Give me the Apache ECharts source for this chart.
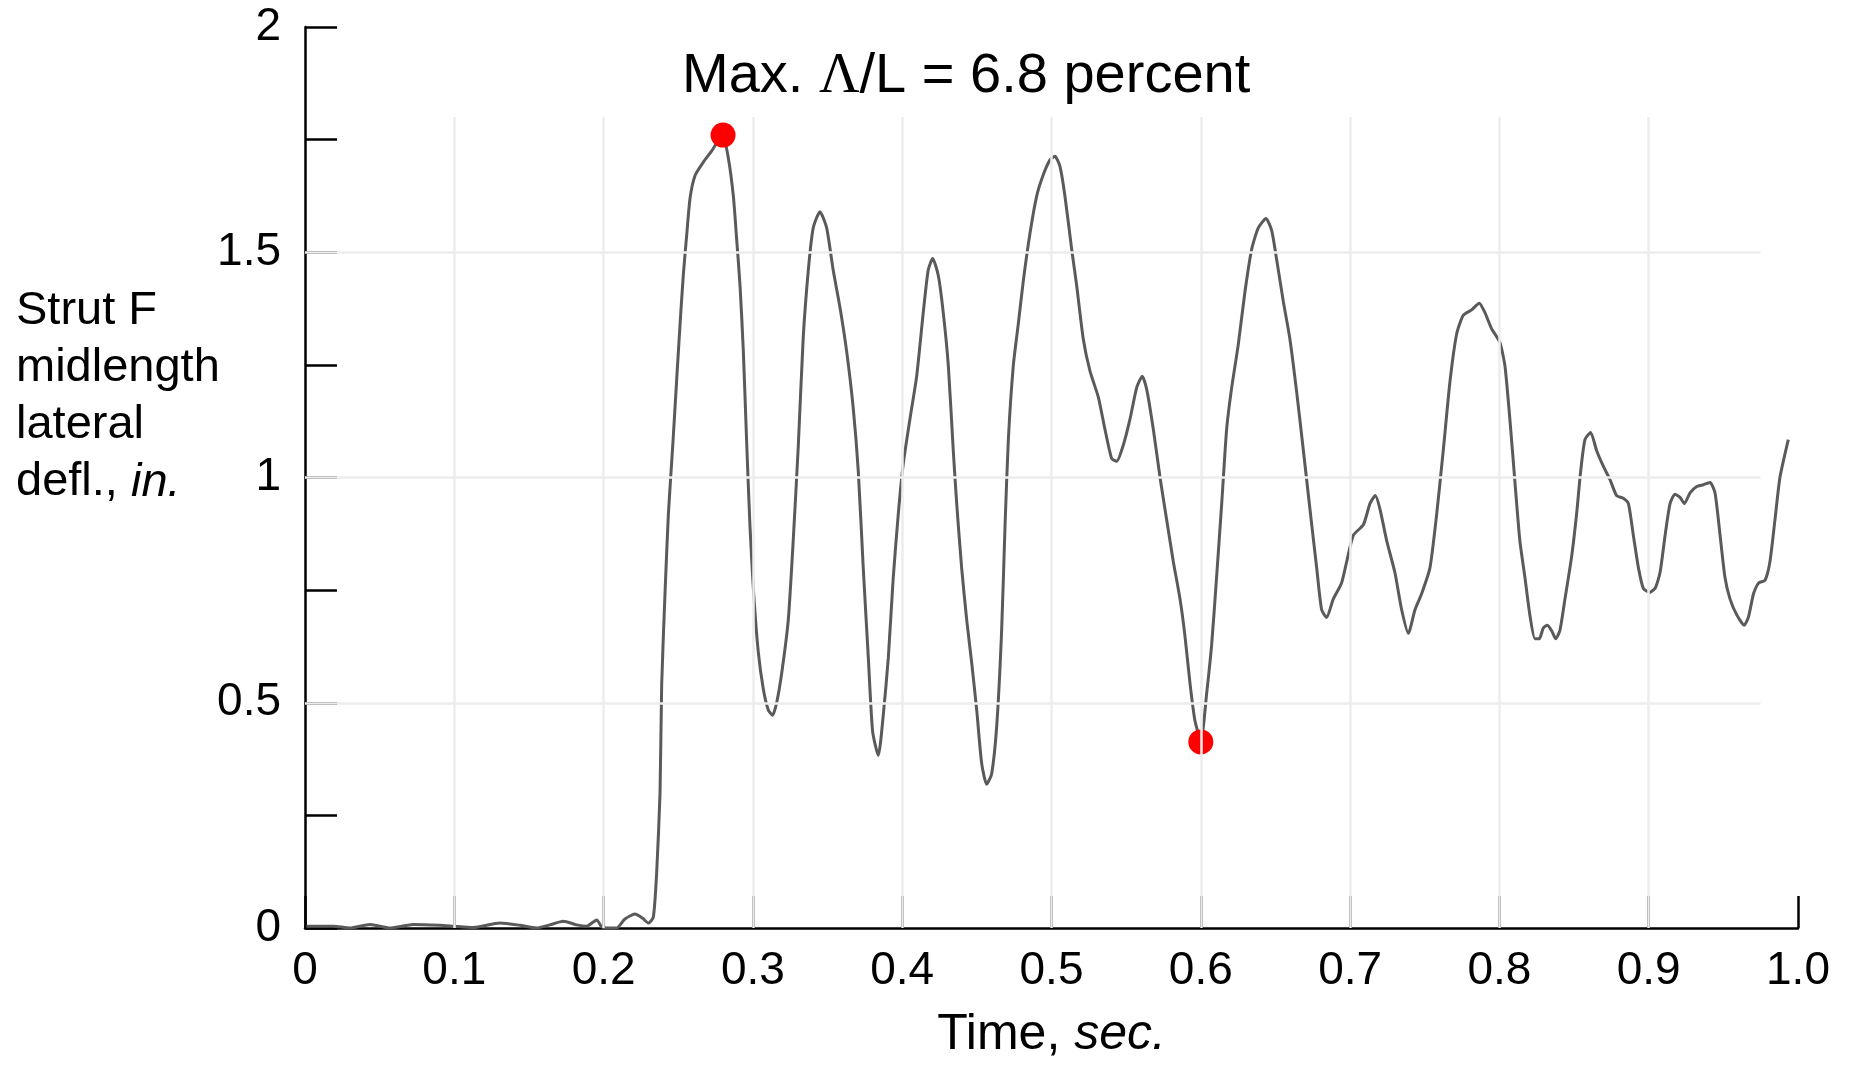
<!DOCTYPE html>
<html>
<head>
<meta charset="utf-8">
<script src="https://cdn.jsdelivr.net/npm/echarts@6/dist/echarts.min.js"></script>
<style>
  html, body { margin: 0; padding: 0; background: #ffffff; }
  #chart { width: 1854px; height: 1065px; }
</style>
</head>
<body>
<div id="chart"></div>
<script>
// ---- Data ----
var timeSec = [
  0.001, 0.019, 0.030, 0.0435, 0.057, 0.0726, 0.0904, 0.0993, 0.1127, 0.1306,
  0.144, 0.155, 0.164, 0.173, 0.182, 0.1887, 0.1954, 0.1987, 0.204, 0.2088,
  0.2143, 0.221, 0.226, 0.230, 0.2333, 0.2355, 0.2378, 0.2389, 0.2411, 0.2434,
  0.2463, 0.249, 0.2512, 0.2534, 0.2557, 0.2579, 0.2612, 0.2668, 0.2724, 0.2797,
  0.2835, 0.2869, 0.2891, 0.2914, 0.2936, 0.2958, 0.298, 0.3003, 0.3036, 0.307,
  0.3103, 0.3132, 0.3159, 0.3193, 0.3237, 0.327, 0.3304, 0.3337, 0.3371, 0.3404,
  0.3449, 0.3494, 0.3538, 0.3583, 0.3628, 0.3672, 0.3706, 0.3739, 0.3773, 0.3802,
  0.384, 0.3873, 0.3907, 0.394, 0.3974, 0.4007, 0.4052, 0.4097, 0.4141, 0.4174,
  0.4204, 0.4242, 0.4275, 0.4309, 0.4342, 0.4365, 0.4398, 0.4432, 0.4465, 0.4499,
  0.4532, 0.4566, 0.4599, 0.4633, 0.4666, 0.4689, 0.4711, 0.4744, 0.4778, 0.4811,
  0.4856, 0.4901, 0.4945, 0.499, 0.5023, 0.5057, 0.509, 0.5135, 0.5169, 0.5213,
  0.5258, 0.5314, 0.5358, 0.5403, 0.5437, 0.5481, 0.5526, 0.5571, 0.5608, 0.5638,
  0.5682, 0.5727, 0.5771, 0.5816, 0.5861, 0.5894, 0.5928, 0.5961, 0.6001, 0.6039,
  0.6073, 0.6106, 0.614, 0.6173, 0.6207, 0.6251, 0.6296, 0.6341, 0.6385, 0.6437,
  0.6475, 0.6508, 0.6553, 0.6597, 0.6642, 0.6687, 0.6731, 0.6776, 0.6809, 0.6843,
  0.6887, 0.6943, 0.6977, 0.7022, 0.7089, 0.7133, 0.7169, 0.72, 0.7245, 0.73,
  0.7345, 0.739, 0.7435, 0.7479, 0.7535, 0.758, 0.7624, 0.7669, 0.7714, 0.7758,
  0.7814, 0.7865, 0.7903, 0.7948, 0.8003, 0.8037, 0.807, 0.8104, 0.8137, 0.8171,
  0.8204, 0.8238, 0.8267, 0.8294, 0.8321, 0.835, 0.8377, 0.8405, 0.8439, 0.8484,
  0.8517, 0.8544, 0.8573, 0.8611, 0.8651, 0.8696, 0.8741, 0.8785, 0.883, 0.8864,
  0.8897, 0.8931, 0.8964, 0.9005, 0.9043, 0.9076, 0.911, 0.9143, 0.9176, 0.921,
  0.9239, 0.9277, 0.9322, 0.9366, 0.9411, 0.9444, 0.9478, 0.9511, 0.9545, 0.959,
  0.9639, 0.9668, 0.9702, 0.9736, 0.9779, 0.9812, 0.9846, 0.9879, 0.9935
];
var deflectionIn = [
  0.004, 0.004, 0.000, 0.008, 0.000, 0.008, 0.006, 0.004, 0.001, 0.011,
  0.006, 0.000, 0.007, 0.015, 0.007, 0.004, 0.018, 0.003, 0.000, 0.000,
  0.020, 0.031, 0.022, 0.011, 0.024, 0.120, 0.300, 0.540, 0.740, 0.920,
  1.070, 1.220, 1.340, 1.450, 1.540, 1.620, 1.670, 1.700, 1.725, 1.760,
  1.710, 1.625, 1.530, 1.425, 1.280, 1.080, 0.895, 0.754, 0.613, 0.530,
  0.484, 0.472, 0.500, 0.566, 0.684, 0.860, 1.070, 1.310, 1.460, 1.554,
  1.590, 1.554, 1.460, 1.378, 1.280, 1.154, 1.013, 0.800, 0.600, 0.436,
  0.383, 0.472, 0.600, 0.778, 0.920, 1.030, 1.130, 1.225, 1.366, 1.460,
  1.486, 1.448, 1.366, 1.248, 1.060, 0.942, 0.800, 0.684, 0.590, 0.484,
  0.366, 0.319, 0.342, 0.448, 0.660, 0.895, 1.084, 1.248, 1.342, 1.436,
  1.542, 1.625, 1.672, 1.705, 1.713, 1.690, 1.625, 1.507, 1.425, 1.307,
  1.236, 1.178, 1.107, 1.042, 1.036, 1.072, 1.130, 1.200, 1.225, 1.195,
  1.107, 1.000, 0.907, 0.813, 0.730, 0.648, 0.542, 0.460, 0.415, 0.520,
  0.630, 0.780, 0.942, 1.107, 1.200, 1.295, 1.413, 1.507, 1.554, 1.575,
  1.548, 1.484, 1.390, 1.307, 1.190, 1.060, 0.930, 0.800, 0.707, 0.689,
  0.730, 0.766, 0.813, 0.872, 0.895, 0.942, 0.960, 0.930, 0.860, 0.789,
  0.707, 0.654, 0.707, 0.742, 0.800, 0.919, 1.060, 1.213, 1.319, 1.360,
  1.372, 1.387, 1.366, 1.330, 1.300, 1.248, 1.130, 0.990, 0.860, 0.778,
  0.695, 0.642, 0.642, 0.666, 0.672, 0.660, 0.642, 0.660, 0.730, 0.825,
  0.919, 1.013, 1.084, 1.100, 1.060, 1.025, 0.995, 0.960, 0.954, 0.942,
  0.872, 0.800, 0.754, 0.745, 0.754, 0.789, 0.872, 0.942, 0.963, 0.956,
  0.942, 0.966, 0.980, 0.984, 0.989, 0.966, 0.872, 0.778, 0.730, 0.695,
  0.672, 0.690, 0.742, 0.766, 0.772, 0.813, 0.907, 1.000, 1.084
];
// Highlighted points (max and min of the excursion)
var markedTime = [0.28, 0.6];
var markedDefl = [1.76, 0.413];

// Axis tick labels
var xTickLabels = ['0', '0.1', '0.2', '0.3', '0.4', '0.5', '0.6', '0.7', '0.8', '0.9', '1.0'];
var yTickLabels = ['0', '', '0.5', '', '1', '', '1.5', '', '2'];

// Light background grid of the original figure
var xGridValues = [0.1, 0.2, 0.3, 0.4, 0.5, 0.6, 0.7, 0.8, 0.9];
var yGridValues = [0.5, 1, 1.5];
var gridTopValue = 1.8;
var gridRightValue = 0.975;

// Texts
var titleText = ['Max. ', 'Λ', '/L = 6.8 percent'];
var yNameLines = ['Strut F', 'midlength', 'lateral', 'defl., ', 'in.'];
var xNameParts = ['Time, ', 'sec.'];

// ---- Build ----
var FONT = '"Liberation Sans", Arial, Helvetica, sans-serif';
var curve = timeSec.map(function (t, i) { return [t, deflectionIn[i]]; });
var dots = markedTime.map(function (t, i) { return [t, markedDefl[i]]; });

var gridLines = [];
xGridValues.forEach(function (x) {
  gridLines.push([{ coord: [x, 0] }, { coord: [x, gridTopValue] }]);
});
yGridValues.forEach(function (y) {
  gridLines.push([{ coord: [0, y] }, { coord: [gridRightValue, y] }]);
});

var chart = echarts.init(document.getElementById('chart'), null, { renderer: 'canvas' });
chart.setOption({
  animation: false,
  backgroundColor: '#ffffff',
  title: [
    {
      text: '{n|' + titleText[0] + '}{g|' + titleText[1] + '}{n|' + titleText[2] + '}',
      left: 682, top: 49, padding: 0,
      textStyle: {
        fontWeight: 'normal',
        rich: {
          n: { fontFamily: FONT, fontSize: 56, fontWeight: 'normal', color: '#000', lineHeight: 56 },
          g: { fontFamily: '"Liberation Serif", "DejaVu Serif", serif', fontSize: 56, fontWeight: 'normal', color: '#000', lineHeight: 56 }
        }
      }
    },
    {
      text: '{a|' + yNameLines[0] + '}\n{a|' + yNameLines[1] + '}\n{a|' + yNameLines[2] + '}\n{a|' + yNameLines[3] + '}{i|' + yNameLines[4] + '}',
      left: 16, top: 283, padding: 0,
      textStyle: {
        fontWeight: 'normal',
        rich: {
          a: { fontFamily: FONT, fontSize: 47, fontWeight: 'normal', color: '#000', lineHeight: 57 },
          i: { fontFamily: FONT, fontSize: 47, fontWeight: 'normal', color: '#000', lineHeight: 57, fontStyle: 'italic' }
        }
      }
    }
  ],
  grid: { left: 305, right: 56, top: 27, bottom: 129, containLabel: false },
  xAxis: {
    type: 'value', min: 0, max: 1, interval: 0.1,
    name: '{n|' + xNameParts[0] + '}{i|' + xNameParts[1] + '}',
    nameLocation: 'middle', nameGap: 82,
    nameTextStyle: {
      rich: {
        n: { fontFamily: FONT, fontSize: 50, color: '#000' },
        i: { fontFamily: FONT, fontSize: 50, color: '#000', fontStyle: 'italic' }
      }
    },
    axisLine: { show: true, onZero: false, lineStyle: { color: '#000', width: 2.5 } },
    axisTick: { show: true, inside: true, length: 32, lineStyle: { color: '#000', width: 2.5 } },
    axisLabel: {
      fontFamily: FONT, fontSize: 46, color: '#000', margin: 20,
      formatter: function (v) { return xTickLabels[Math.round(v * 10)]; }
    },
    splitLine: { show: false }
  },
  yAxis: {
    type: 'value', min: 0, max: 2, interval: 0.25,
    axisLine: { show: true, onZero: false, lineStyle: { color: '#000', width: 2.5 } },
    axisTick: { show: true, inside: true, length: 32, lineStyle: { color: '#000', width: 2.5 } },
    axisLabel: {
      fontFamily: FONT, fontSize: 46, color: '#000', margin: 24,
      formatter: function (v) { return yTickLabels[Math.round(v * 4)]; }
    },
    splitLine: { show: false }
  },
  series: [
    {
      name: 'grid', type: 'line', data: [], z: 1, silent: true,
      markLine: {
        silent: true, animation: false, symbol: ['none', 'none'],
        label: { show: false },
        lineStyle: { color: '#ededed', width: 2.5, type: 'solid' },
        emphasis: { disabled: true },
        data: gridLines
      }
    },
    {
      name: 'Strut F deflection', type: 'line', data: curve, z: 2,
      showSymbol: false, symbol: 'none', smooth: 0.2,
      lineStyle: { color: '#5a5a5a', width: 3 },
      silent: true
    },
    {
      name: 'Marked', type: 'scatter', data: dots, z: 3,
      symbol: 'circle', symbolSize: 25,
      itemStyle: { color: '#ff0000', opacity: 1 },
      silent: true
    }
  ]
});
</script>
</body>
</html>
